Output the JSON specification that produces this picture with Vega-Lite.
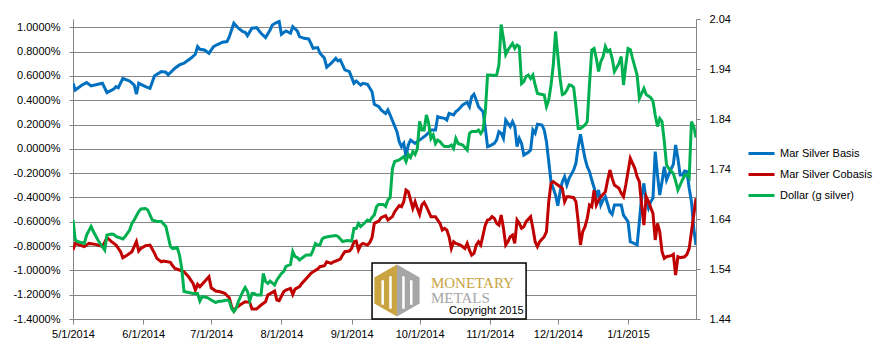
{
"$schema": "https://vega.github.io/schema/vega-lite/v6.json",
"width": 623, "height": 300,
"autosize": {"type": "none"},
"padding": {"left": 73, "top": 19, "right": 192, "bottom": 34},
"background": "white",
"config": {
  "view": {"stroke": null},
  "font": "Liberation Sans",
  "axis": {"domainColor": "#868686", "tickColor": "#868686", "gridColor": "#868686", "labelColor": "#000000", "labelFont": "Liberation Sans", "labelFontSize": 11}
},
"datasets": {
"basis": [
{"d":"2014-05-01","v":0.539},{"d":"2014-05-02","v":0.484},{"d":"2014-05-05","v":0.525},{"d":"2014-05-07","v":0.545},{"d":"2014-05-09","v":0.517},{"d":"2014-05-12","v":0.531},{"d":"2014-05-14","v":0.539},{"d":"2014-05-16","v":0.462},{"d":"2014-05-19","v":0.492},{"d":"2014-05-20","v":0.512},{"d":"2014-05-21","v":0.503},{"d":"2014-05-23","v":0.580},{"d":"2014-05-26","v":0.558},{"d":"2014-05-28","v":0.525},{"d":"2014-05-29","v":0.449},{"d":"2014-05-30","v":0.539},
{"d":"2014-06-02","v":0.512},{"d":"2014-06-04","v":0.498},{"d":"2014-06-06","v":0.602},{"d":"2014-06-09","v":0.635},{"d":"2014-06-11","v":0.630},{"d":"2014-06-12","v":0.608},{"d":"2014-06-15","v":0.663},{"d":"2014-06-17","v":0.690},{"d":"2014-06-19","v":0.704},{"d":"2014-06-22","v":0.745},{"d":"2014-06-24","v":0.778},{"d":"2014-06-25","v":0.841},{"d":"2014-06-26","v":0.819},{"d":"2014-06-28","v":0.813},{"d":"2014-06-30","v":0.786},
{"d":"2014-07-02","v":0.841},{"d":"2014-07-04","v":0.860},{"d":"2014-07-06","v":0.877},{"d":"2014-07-08","v":0.882},{"d":"2014-07-09","v":0.923},{"d":"2014-07-11","v":1.033},{"d":"2014-07-13","v":0.992},{"d":"2014-07-15","v":0.964},{"d":"2014-07-16","v":0.959},{"d":"2014-07-17","v":0.931},{"d":"2014-07-19","v":0.992},{"d":"2014-07-21","v":0.997},{"d":"2014-07-23","v":0.951},{"d":"2014-07-25","v":0.915},{"d":"2014-07-27","v":0.978},{"d":"2014-07-28","v":1.019},{"d":"2014-07-30","v":1.041},{"d":"2014-07-31","v":1.047},
{"d":"2014-08-01","v":0.942},{"d":"2014-08-03","v":0.970},{"d":"2014-08-05","v":0.951},{"d":"2014-08-06","v":1.005},{"d":"2014-08-08","v":0.970},{"d":"2014-08-09","v":0.923},{"d":"2014-08-11","v":0.909},{"d":"2014-08-13","v":0.904},{"d":"2014-08-14","v":0.868},{"d":"2014-08-15","v":0.827},{"d":"2014-08-17","v":0.833},{"d":"2014-08-18","v":0.786},{"d":"2014-08-20","v":0.745},{"d":"2014-08-21","v":0.671},{"d":"2014-08-23","v":0.704},{"d":"2014-08-25","v":0.745},{"d":"2014-08-26","v":0.723},{"d":"2014-08-27","v":0.731},{"d":"2014-08-28","v":0.690},{"d":"2014-08-29","v":0.649},{"d":"2014-08-31","v":0.635},
{"d":"2014-09-02","v":0.539},{"d":"2014-09-03","v":0.558},{"d":"2014-09-05","v":0.525},{"d":"2014-09-06","v":0.539},{"d":"2014-09-08","v":0.531},{"d":"2014-09-10","v":0.470},{"d":"2014-09-11","v":0.366},{"d":"2014-09-13","v":0.347},{"d":"2014-09-14","v":0.320},{"d":"2014-09-16","v":0.290},{"d":"2014-09-17","v":0.320},{"d":"2014-09-18","v":0.278},{"d":"2014-09-21","v":0.141},{"d":"2014-09-22","v":0.059},{"d":"2014-09-23","v":0.018},{"d":"2014-09-24","v":0.045},{"d":"2014-09-25","v":-0.064},{"d":"2014-09-26","v":0.032},{"d":"2014-09-27","v":0.073},{"d":"2014-09-29","v":0.045},{"d":"2014-09-30","v":0.059},
{"d":"2014-10-02","v":0.086},{"d":"2014-10-04","v":0.114},{"d":"2014-10-06","v":0.155},{"d":"2014-10-08","v":0.155},{"d":"2014-10-09","v":0.265},{"d":"2014-10-10","v":0.257},{"d":"2014-10-12","v":0.251},{"d":"2014-10-13","v":0.237},{"d":"2014-10-14","v":0.292},{"d":"2014-10-16","v":0.278},{"d":"2014-10-17","v":0.306},{"d":"2014-10-18","v":0.320},{"d":"2014-10-20","v":0.361},{"d":"2014-10-22","v":0.383},{"d":"2014-10-23","v":0.347},{"d":"2014-10-24","v":0.429},{"d":"2014-10-25","v":0.449},{"d":"2014-10-26","v":0.402},{"d":"2014-10-27","v":0.347},{"d":"2014-10-28","v":0.325},{"d":"2014-10-29","v":0.306},{"d":"2014-10-30","v":0.169},{"d":"2014-10-31","v":0.018},
{"d":"2014-11-01","v":0.025},{"d":"2014-11-03","v":0.045},{"d":"2014-11-04","v":0.073},{"d":"2014-11-05","v":0.141},{"d":"2014-11-06","v":0.128},{"d":"2014-11-07","v":0.086},{"d":"2014-11-08","v":0.237},{"d":"2014-11-09","v":0.210},{"d":"2014-11-10","v":0.182},{"d":"2014-11-11","v":0.224},{"d":"2014-11-12","v":0.182},{"d":"2014-11-13","v":0.018},{"d":"2014-11-14","v":0.086},{"d":"2014-11-15","v":0.045},{"d":"2014-11-16","v":-0.051},{"d":"2014-11-18","v":-0.029},{"d":"2014-11-19","v":-0.010},{"d":"2014-11-20","v":0.155},{"d":"2014-11-21","v":0.128},{"d":"2014-11-22","v":0.202},{"d":"2014-11-24","v":0.196},{"d":"2014-11-25","v":0.155},{"d":"2014-11-26","v":0.059},{"d":"2014-11-27","v":-0.106},{"d":"2014-11-28","v":-0.270},{"d":"2014-11-30","v":-0.380},
{"d":"2014-12-01","v":-0.468},{"d":"2014-12-02","v":-0.353},{"d":"2014-12-03","v":-0.270},{"d":"2014-12-04","v":-0.229},{"d":"2014-12-05","v":-0.298},{"d":"2014-12-06","v":-0.243},{"d":"2014-12-08","v":-0.174},{"d":"2014-12-09","v":-0.119},{"d":"2014-12-10","v":0.018},{"d":"2014-12-11","v":0.119},{"d":"2014-12-12","v":0.018},{"d":"2014-12-13","v":-0.078},{"d":"2014-12-14","v":-0.147},{"d":"2014-12-15","v":-0.188},{"d":"2014-12-16","v":-0.257},{"d":"2014-12-17","v":-0.318},{"d":"2014-12-18","v":-0.394},{"d":"2014-12-19","v":-0.339},{"d":"2014-12-20","v":-0.462},{"d":"2014-12-21","v":-0.421},{"d":"2014-12-22","v":-0.394},{"d":"2014-12-24","v":-0.517},{"d":"2014-12-25","v":-0.539},{"d":"2014-12-26","v":-0.462},{"d":"2014-12-29","v":-0.462},{"d":"2014-12-30","v":-0.545},
{"d":"2015-01-01","v":-0.599},{"d":"2015-01-02","v":-0.764},{"d":"2015-01-04","v":-0.781},{"d":"2015-01-05","v":-0.791},{"d":"2015-01-06","v":-0.599},{"d":"2015-01-07","v":-0.394},{"d":"2015-01-08","v":-0.284},{"d":"2015-01-09","v":-0.435},{"d":"2015-01-10","v":-0.490},{"d":"2015-01-11","v":-0.435},{"d":"2015-01-12","v":-0.407},{"d":"2015-01-13","v":-0.023},{"d":"2015-01-14","v":-0.215},{"d":"2015-01-15","v":-0.380},{"d":"2015-01-16","v":-0.270},{"d":"2015-01-17","v":-0.147},{"d":"2015-01-18","v":-0.257},{"d":"2015-01-19","v":-0.210},{"d":"2015-01-20","v":-0.166},{"d":"2015-01-21","v":-0.128},{"d":"2015-01-22","v":0.032},{"d":"2015-01-23","v":-0.078},{"d":"2015-01-24","v":-0.215},{"d":"2015-01-25","v":-0.215},{"d":"2015-01-26","v":-0.182},{"d":"2015-01-27","v":-0.188},{"d":"2015-01-28","v":-0.325},{"d":"2015-01-29","v":-0.435},{"d":"2015-01-30","v":-0.654},{"d":"2015-01-31","v":-0.791}
],
"cobasis": [
{"d":"2014-05-01","v":-0.833},{"d":"2014-05-02","v":-0.778},{"d":"2014-05-04","v":-0.792},{"d":"2014-05-06","v":-0.805},{"d":"2014-05-08","v":-0.778},{"d":"2014-05-11","v":-0.786},{"d":"2014-05-13","v":-0.797},{"d":"2014-05-14","v":-0.805},{"d":"2014-05-16","v":-0.731},{"d":"2014-05-18","v":-0.764},{"d":"2014-05-20","v":-0.792},{"d":"2014-05-22","v":-0.846},{"d":"2014-05-23","v":-0.896},{"d":"2014-05-25","v":-0.874},{"d":"2014-05-27","v":-0.846},{"d":"2014-05-29","v":-0.764},{"d":"2014-05-30","v":-0.841},{"d":"2014-05-31","v":-0.819},
{"d":"2014-06-02","v":-0.797},{"d":"2014-06-04","v":-0.792},{"d":"2014-06-06","v":-0.860},{"d":"2014-06-07","v":-0.901},{"d":"2014-06-09","v":-0.929},{"d":"2014-06-10","v":-0.923},{"d":"2014-06-13","v":-0.934},{"d":"2014-06-14","v":-0.962},{"d":"2014-06-15","v":-0.984},{"d":"2014-06-17","v":-0.997},{"d":"2014-06-19","v":-1.011},{"d":"2014-06-21","v":-1.052},{"d":"2014-06-22","v":-1.080},{"d":"2014-06-23","v":-1.107},{"d":"2014-06-24","v":-1.162},{"d":"2014-06-25","v":-1.115},{"d":"2014-06-26","v":-1.135},{"d":"2014-06-28","v":-1.093},{"d":"2014-06-30","v":-1.052},
{"d":"2014-07-01","v":-1.143},{"d":"2014-07-03","v":-1.170},{"d":"2014-07-05","v":-1.176},{"d":"2014-07-07","v":-1.189},{"d":"2014-07-09","v":-1.225},{"d":"2014-07-10","v":-1.299},{"d":"2014-07-11","v":-1.335},{"d":"2014-07-12","v":-1.307},{"d":"2014-07-14","v":-1.280},{"d":"2014-07-16","v":-1.258},{"d":"2014-07-18","v":-1.263},{"d":"2014-07-19","v":-1.318},{"d":"2014-07-21","v":-1.318},{"d":"2014-07-23","v":-1.285},{"d":"2014-07-25","v":-1.258},{"d":"2014-07-26","v":-1.203},{"d":"2014-07-28","v":-1.181},{"d":"2014-07-29","v":-1.170},{"d":"2014-07-30","v":-1.244},{"d":"2014-07-31","v":-1.250},
{"d":"2014-08-02","v":-1.176},{"d":"2014-08-03","v":-1.162},{"d":"2014-08-05","v":-1.148},{"d":"2014-08-06","v":-1.198},{"d":"2014-08-07","v":-1.154},{"d":"2014-08-09","v":-1.134},{"d":"2014-08-10","v":-1.107},{"d":"2014-08-12","v":-1.066},{"d":"2014-08-14","v":-1.025},{"d":"2014-08-15","v":-1.011},{"d":"2014-08-17","v":-0.989},{"d":"2014-08-18","v":-0.970},{"d":"2014-08-20","v":-0.962},{"d":"2014-08-21","v":-0.929},{"d":"2014-08-23","v":-0.942},{"d":"2014-08-24","v":-0.929},{"d":"2014-08-25","v":-0.923},{"d":"2014-08-27","v":-0.907},{"d":"2014-08-28","v":-0.874},{"d":"2014-08-29","v":-0.846},{"d":"2014-08-31","v":-0.841},
{"d":"2014-09-01","v":-0.819},{"d":"2014-09-02","v":-0.764},{"d":"2014-09-03","v":-0.759},{"d":"2014-09-04","v":-0.833},{"d":"2014-09-05","v":-0.792},{"d":"2014-09-06","v":-0.778},{"d":"2014-09-08","v":-0.792},{"d":"2014-09-09","v":-0.770},{"d":"2014-09-10","v":-0.731},{"d":"2014-09-11","v":-0.613},{"d":"2014-09-13","v":-0.594},{"d":"2014-09-14","v":-0.567},{"d":"2014-09-16","v":-0.550},{"d":"2014-09-17","v":-0.586},{"d":"2014-09-19","v":-0.558},{"d":"2014-09-20","v":-0.517},{"d":"2014-09-22","v":-0.468},{"d":"2014-09-23","v":-0.476},{"d":"2014-09-24","v":-0.435},{"d":"2014-09-25","v":-0.339},{"d":"2014-09-26","v":-0.353},{"d":"2014-09-27","v":-0.421},{"d":"2014-09-28","v":-0.490},{"d":"2014-09-29","v":-0.435},{"d":"2014-09-30","v":-0.490},
{"d":"2014-10-01","v":-0.539},{"d":"2014-10-02","v":-0.462},{"d":"2014-10-03","v":-0.440},{"d":"2014-10-04","v":-0.476},{"d":"2014-10-05","v":-0.517},{"d":"2014-10-06","v":-0.558},{"d":"2014-10-08","v":-0.558},{"d":"2014-10-09","v":-0.586},{"d":"2014-10-10","v":-0.613},{"d":"2014-10-11","v":-0.668},{"d":"2014-10-12","v":-0.654},{"d":"2014-10-13","v":-0.668},{"d":"2014-10-14","v":-0.723},{"d":"2014-10-15","v":-0.819},{"d":"2014-10-16","v":-0.764},{"d":"2014-10-17","v":-0.778},{"d":"2014-10-19","v":-0.792},{"d":"2014-10-21","v":-0.819},{"d":"2014-10-22","v":-0.778},{"d":"2014-10-23","v":-0.833},{"d":"2014-10-24","v":-0.874},{"d":"2014-10-25","v":-0.860},{"d":"2014-10-26","v":-0.792},{"d":"2014-10-27","v":-0.764},{"d":"2014-10-28","v":-0.792},{"d":"2014-10-29","v":-0.709},{"d":"2014-10-30","v":-0.627},{"d":"2014-10-31","v":-0.586},
{"d":"2014-11-01","v":-0.580},{"d":"2014-11-02","v":-0.558},{"d":"2014-11-03","v":-0.572},{"d":"2014-11-04","v":-0.613},{"d":"2014-11-05","v":-0.627},{"d":"2014-11-06","v":-0.545},{"d":"2014-11-07","v":-0.654},{"d":"2014-11-08","v":-0.791},{"d":"2014-11-09","v":-0.764},{"d":"2014-11-10","v":-0.723},{"d":"2014-11-11","v":-0.709},{"d":"2014-11-12","v":-0.778},{"d":"2014-11-13","v":-0.586},{"d":"2014-11-14","v":-0.613},{"d":"2014-11-15","v":-0.654},{"d":"2014-11-16","v":-0.641},{"d":"2014-11-17","v":-0.599},{"d":"2014-11-19","v":-0.558},{"d":"2014-11-20","v":-0.654},{"d":"2014-11-21","v":-0.764},{"d":"2014-11-22","v":-0.805},{"d":"2014-11-23","v":-0.764},{"d":"2014-11-25","v":-0.723},{"d":"2014-11-26","v":-0.682},{"d":"2014-11-27","v":-0.435},{"d":"2014-11-28","v":-0.284},{"d":"2014-11-29","v":-0.270},{"d":"2014-11-30","v":-0.284},
{"d":"2014-12-01","v":-0.298},{"d":"2014-12-03","v":-0.325},{"d":"2014-12-04","v":-0.435},{"d":"2014-12-05","v":-0.394},{"d":"2014-12-06","v":-0.394},{"d":"2014-12-08","v":-0.402},{"d":"2014-12-09","v":-0.435},{"d":"2014-12-10","v":-0.599},{"d":"2014-12-11","v":-0.791},{"d":"2014-12-12","v":-0.682},{"d":"2014-12-13","v":-0.641},{"d":"2014-12-14","v":-0.572},{"d":"2014-12-15","v":-0.462},{"d":"2014-12-16","v":-0.476},{"d":"2014-12-17","v":-0.340},{"d":"2014-12-18","v":-0.462},{"d":"2014-12-19","v":-0.421},{"d":"2014-12-20","v":-0.394},{"d":"2014-12-22","v":-0.353},{"d":"2014-12-23","v":-0.257},{"d":"2014-12-24","v":-0.174},{"d":"2014-12-25","v":-0.243},{"d":"2014-12-26","v":-0.298},{"d":"2014-12-28","v":-0.325},{"d":"2014-12-29","v":-0.366},{"d":"2014-12-30","v":-0.394},{"d":"2014-12-31","v":-0.298},
{"d":"2015-01-01","v":-0.188},{"d":"2015-01-02","v":-0.078},{"d":"2015-01-04","v":-0.160},{"d":"2015-01-05","v":-0.229},{"d":"2015-01-06","v":-0.270},{"d":"2015-01-07","v":-0.462},{"d":"2015-01-08","v":-0.627},{"d":"2015-01-09","v":-0.394},{"d":"2015-01-10","v":-0.435},{"d":"2015-01-11","v":-0.484},{"d":"2015-01-12","v":-0.531},{"d":"2015-01-13","v":-0.750},{"d":"2015-01-14","v":-0.613},{"d":"2015-01-15","v":-0.682},{"d":"2015-01-16","v":-0.846},{"d":"2015-01-17","v":-0.901},{"d":"2015-01-18","v":-0.888},{"d":"2015-01-20","v":-0.879},{"d":"2015-01-21","v":-0.868},{"d":"2015-01-22","v":-1.038},{"d":"2015-01-23","v":-0.888},{"d":"2015-01-24","v":-0.896},{"d":"2015-01-26","v":-0.888},{"d":"2015-01-27","v":-0.868},{"d":"2015-01-28","v":-0.819},{"d":"2015-01-29","v":-0.682},{"d":"2015-01-30","v":-0.545},{"d":"2015-01-31","v":-0.407}
],
"dollar": [
{"d":"2014-05-01","v":1.638},{"d":"2014-05-02","v":1.598},{"d":"2014-05-03","v":1.595},{"d":"2014-05-06","v":1.591},{"d":"2014-05-07","v":1.608},{"d":"2014-05-09","v":1.625},{"d":"2014-05-10","v":1.615},{"d":"2014-05-12","v":1.598},{"d":"2014-05-13","v":1.591},{"d":"2014-05-15","v":1.578},{"d":"2014-05-16","v":1.608},{"d":"2014-05-18","v":1.610},{"d":"2014-05-19","v":1.609},{"d":"2014-05-20","v":1.605},{"d":"2014-05-23","v":1.600},{"d":"2014-05-24","v":1.605},{"d":"2014-05-26","v":1.618},{"d":"2014-05-27","v":1.631},{"d":"2014-05-28","v":1.638},{"d":"2014-05-30","v":1.655},{"d":"2014-05-31","v":1.660},
{"d":"2014-06-02","v":1.661},{"d":"2014-06-03","v":1.658},{"d":"2014-06-05","v":1.638},{"d":"2014-06-07","v":1.635},{"d":"2014-06-09","v":1.635},{"d":"2014-06-11","v":1.625},{"d":"2014-06-12","v":1.605},{"d":"2014-06-13","v":1.585},{"d":"2014-06-14","v":1.581},{"d":"2014-06-16","v":1.583},{"d":"2014-06-17","v":1.568},{"d":"2014-06-18","v":1.541},{"d":"2014-06-19","v":1.495},{"d":"2014-06-21","v":1.493},{"d":"2014-06-23","v":1.491},{"d":"2014-06-25","v":1.491},{"d":"2014-06-26","v":1.476},{"d":"2014-06-27","v":1.485},{"d":"2014-06-29","v":1.483},{"d":"2014-06-30","v":1.481},
{"d":"2014-07-01","v":1.478},{"d":"2014-07-03","v":1.473},{"d":"2014-07-04","v":1.475},{"d":"2014-07-06","v":1.476},{"d":"2014-07-08","v":1.478},{"d":"2014-07-09","v":1.476},{"d":"2014-07-10","v":1.461},{"d":"2014-07-11","v":1.455},{"d":"2014-07-12","v":1.461},{"d":"2014-07-13","v":1.475},{"d":"2014-07-15","v":1.495},{"d":"2014-07-16","v":1.503},{"d":"2014-07-17","v":1.495},{"d":"2014-07-18","v":1.476},{"d":"2014-07-19","v":1.491},{"d":"2014-07-20","v":1.491},{"d":"2014-07-21","v":1.488},{"d":"2014-07-23","v":1.488},{"d":"2014-07-24","v":1.531},{"d":"2014-07-25","v":1.515},{"d":"2014-07-26","v":1.511},{"d":"2014-07-27","v":1.516},{"d":"2014-07-29","v":1.508},{"d":"2014-07-30","v":1.518},
{"d":"2014-08-01","v":1.531},{"d":"2014-08-02","v":1.535},{"d":"2014-08-03","v":1.545},{"d":"2014-08-05","v":1.549},{"d":"2014-08-06","v":1.575},{"d":"2014-08-07","v":1.565},{"d":"2014-08-08","v":1.563},{"d":"2014-08-09","v":1.558},{"d":"2014-08-11","v":1.565},{"d":"2014-08-12","v":1.568},{"d":"2014-08-14","v":1.568},{"d":"2014-08-15","v":1.578},{"d":"2014-08-16","v":1.591},{"d":"2014-08-17","v":1.588},{"d":"2014-08-18","v":1.588},{"d":"2014-08-19","v":1.600},{"d":"2014-08-20","v":1.603},{"d":"2014-08-22","v":1.605},{"d":"2014-08-25","v":1.607},{"d":"2014-08-26","v":1.605},{"d":"2014-08-27","v":1.600},{"d":"2014-08-28","v":1.595},{"d":"2014-08-30","v":1.597},
{"d":"2014-09-01","v":1.596},{"d":"2014-09-02","v":1.621},{"d":"2014-09-03","v":1.621},{"d":"2014-09-04","v":1.631},{"d":"2014-09-05","v":1.625},{"d":"2014-09-06","v":1.629},{"d":"2014-09-08","v":1.638},{"d":"2014-09-09","v":1.636},{"d":"2014-09-10","v":1.643},{"d":"2014-09-11","v":1.648},{"d":"2014-09-12","v":1.665},{"d":"2014-09-13","v":1.669},{"d":"2014-09-15","v":1.669},{"d":"2014-09-16","v":1.665},{"d":"2014-09-17","v":1.678},{"d":"2014-09-18","v":1.683},{"d":"2014-09-19","v":1.741},{"d":"2014-09-20","v":1.755},{"d":"2014-09-22","v":1.758},{"d":"2014-09-24","v":1.765},{"d":"2014-09-25","v":1.755},{"d":"2014-09-26","v":1.769},{"d":"2014-09-27","v":1.763},{"d":"2014-09-28","v":1.775},{"d":"2014-09-29","v":1.769},{"d":"2014-09-30","v":1.781},
{"d":"2014-10-01","v":1.835},{"d":"2014-10-02","v":1.818},{"d":"2014-10-03","v":1.818},{"d":"2014-10-04","v":1.848},{"d":"2014-10-05","v":1.831},{"d":"2014-10-06","v":1.801},{"d":"2014-10-07","v":1.808},{"d":"2014-10-08","v":1.791},{"d":"2014-10-09","v":1.798},{"d":"2014-10-10","v":1.795},{"d":"2014-10-11","v":1.789},{"d":"2014-10-12","v":1.785},{"d":"2014-10-14","v":1.785},{"d":"2014-10-15","v":1.788},{"d":"2014-10-16","v":1.781},{"d":"2014-10-17","v":1.801},{"d":"2014-10-18","v":1.791},{"d":"2014-10-20","v":1.788},{"d":"2014-10-22","v":1.778},{"d":"2014-10-23","v":1.811},{"d":"2014-10-24","v":1.815},{"d":"2014-10-26","v":1.815},{"d":"2014-10-27","v":1.818},{"d":"2014-10-28","v":1.811},{"d":"2014-10-29","v":1.818},{"d":"2014-10-30","v":1.855},{"d":"2014-10-31","v":1.928},
{"d":"2014-11-01","v":1.928},{"d":"2014-11-03","v":1.927},{"d":"2014-11-04","v":1.928},{"d":"2014-11-05","v":1.948},{"d":"2014-11-06","v":2.029},{"d":"2014-11-07","v":2.001},{"d":"2014-11-08","v":1.969},{"d":"2014-11-09","v":1.978},{"d":"2014-11-10","v":1.985},{"d":"2014-11-11","v":1.991},{"d":"2014-11-12","v":1.981},{"d":"2014-11-13","v":1.988},{"d":"2014-11-14","v":1.985},{"d":"2014-11-15","v":1.911},{"d":"2014-11-16","v":1.915},{"d":"2014-11-17","v":1.925},{"d":"2014-11-18","v":1.928},{"d":"2014-11-19","v":1.921},{"d":"2014-11-20","v":1.928},{"d":"2014-11-21","v":1.908},{"d":"2014-11-22","v":1.891},{"d":"2014-11-24","v":1.889},{"d":"2014-11-25","v":1.888},{"d":"2014-11-26","v":1.865},{"d":"2014-11-27","v":1.878},{"d":"2014-11-28","v":1.908},{"d":"2014-11-29","v":1.948},{"d":"2014-11-30","v":2.015},
{"d":"2014-12-01","v":1.968},{"d":"2014-12-02","v":1.921},{"d":"2014-12-03","v":1.889},{"d":"2014-12-04","v":1.891},{"d":"2014-12-05","v":1.898},{"d":"2014-12-06","v":1.908},{"d":"2014-12-07","v":1.907},{"d":"2014-12-08","v":1.903},{"d":"2014-12-09","v":1.865},{"d":"2014-12-10","v":1.821},{"d":"2014-12-11","v":1.821},{"d":"2014-12-13","v":1.828},{"d":"2014-12-14","v":1.835},{"d":"2014-12-15","v":1.911},{"d":"2014-12-16","v":1.978},{"d":"2014-12-17","v":1.981},{"d":"2014-12-18","v":1.961},{"d":"2014-12-19","v":1.935},{"d":"2014-12-20","v":1.955},{"d":"2014-12-21","v":1.965},{"d":"2014-12-22","v":1.985},{"d":"2014-12-23","v":1.975},{"d":"2014-12-24","v":1.978},{"d":"2014-12-25","v":1.961},{"d":"2014-12-26","v":1.935},{"d":"2014-12-28","v":1.951},{"d":"2014-12-29","v":1.965},{"d":"2014-12-30","v":1.908},{"d":"2014-12-31","v":1.948},
{"d":"2015-01-01","v":1.981},{"d":"2015-01-02","v":1.979},{"d":"2015-01-03","v":1.961},{"d":"2015-01-05","v":1.928},{"d":"2015-01-06","v":1.881},{"d":"2015-01-07","v":1.891},{"d":"2015-01-08","v":1.901},{"d":"2015-01-09","v":1.889},{"d":"2015-01-11","v":1.883},{"d":"2015-01-12","v":1.876},{"d":"2015-01-13","v":1.848},{"d":"2015-01-14","v":1.825},{"d":"2015-01-15","v":1.841},{"d":"2015-01-16","v":1.835},{"d":"2015-01-17","v":1.795},{"d":"2015-01-18","v":1.748},{"d":"2015-01-19","v":1.741},{"d":"2015-01-20","v":1.736},{"d":"2015-01-21","v":1.731},{"d":"2015-01-22","v":1.716},{"d":"2015-01-23","v":1.698},{"d":"2015-01-24","v":1.708},{"d":"2015-01-25","v":1.718},{"d":"2015-01-26","v":1.727},{"d":"2015-01-27","v":1.729},{"d":"2015-01-28","v":1.723},{"d":"2015-01-29","v":1.835},{"d":"2015-01-30","v":1.825},{"d":"2015-01-31","v":1.803}
]
},
"layer": [
{
"layer": [
{
"data": {"name": "basis"},
"mark": {"type": "line", "strokeWidth": 3, "clip": true},
"encoding": {
  "x": {"field": "d", "type": "temporal", "title": null,
    "scale": {"type": "utc", "domain": [{"year": 2014, "month": 5, "date": 1, "utc": true}, {"year": 2015, "month": 1, "date": 31, "utc": true}]},
    "axis": {"values": [{"year": 2014, "month": 5, "date": 1, "utc": true}, {"year": 2014, "month": 6, "date": 1, "utc": true}, {"year": 2014, "month": 7, "date": 1, "utc": true}, {"year": 2014, "month": 8, "date": 1, "utc": true}, {"year": 2014, "month": 9, "date": 1, "utc": true}, {"year": 2014, "month": 10, "date": 1, "utc": true}, {"year": 2014, "month": 11, "date": 1, "utc": true}, {"year": 2014, "month": 12, "date": 1, "utc": true}, {"year": 2015, "month": 1, "date": 1, "utc": true}],
      "format": "%-m/%-d/%Y", "grid": false, "tickSize": 5, "labelPadding": 4, "labelFlush": false, "labelOverlap": false, "tickCount": 20}},
  "y": {"field": "v", "type": "quantitative", "title": null,
    "scale": {"domain": [-1.4, 1.068], "nice": false, "zero": false},
    "axis": {"orient": "left", "values": [-1.4, -1.2, -1, -0.8, -0.6, -0.4, -0.2, 0, 0.2, 0.4, 0.6, 0.8, 1], "tickCount": 20,
      "labelExpr": "replace(format(datum.value, '.4f'), '\u2212', '-') + '%'", "grid": true, "tickSize": 4, "labelPadding": 9, "labelOverlap": false, "labelFlush": false}},
  "color": {"datum": "Mar Silver Basis",
    "scale": {"domain": ["Mar Silver Basis", "Mar Silver Cobasis", "Dollar (g silver)"], "range": ["#0070C0", "#C00000", "#00B050"]},
    "legend": {"title": null, "orient": "none", "legendX": 674, "legendY": 120, "symbolType": "stroke", "symbolSize": 676, "symbolStrokeWidth": 3, "labelFont": "Liberation Sans", "labelFontSize": 11, "labelColor": "#000000", "labelOffset": 4, "rowPadding": -1.5, "padding": 0}}
}
},
{
"data": {"name": "cobasis"},
"mark": {"type": "line", "strokeWidth": 3, "clip": true},
"encoding": {
  "x": {"field": "d", "type": "temporal", "scale": {"type": "utc"}},
  "y": {"field": "v", "type": "quantitative", "scale": {"domain": [-1.4, 1.068], "nice": false, "zero": false}},
  "color": {"datum": "Mar Silver Cobasis"}
}
},
{
"data": {"values": [{"d1": "2014-09-10", "d2": "2014-11-17", "v1": -0.94, "v2": -1.4}]},
"mark": {"type": "rect", "fill": "white", "stroke": "#000000", "strokeWidth": 1.5},
"encoding": {
  "x": {"field": "d1", "type": "temporal", "scale": {"type": "utc"}},
  "x2": {"field": "d2"},
  "y": {"field": "v1", "type": "quantitative", "scale": {"domain": [-1.4, 1.068], "nice": false, "zero": false}},
  "y2": {"field": "v2"}
}
},
{
"data": {"values": [{"d": "2014-09-21", "v": -1.166}]},
"mark": {"type": "point", "shape": "M0,-1 L-0.87,-0.5 L-0.87,0.5 L0,1 Z", "filled": true, "fill": "#C9A441", "opacity": 1, "strokeWidth": 0, "size": 2704},
"encoding": {
  "x": {"field": "d", "type": "temporal", "scale": {"type": "utc"}},
  "y": {"field": "v", "type": "quantitative", "scale": {"domain": [-1.4, 1.068], "nice": false, "zero": false}}
}
},
{
"data": {"values": [{"d": "2014-09-21", "v": -1.166}]},
"mark": {"type": "point", "shape": "M0,-1 L0.87,-0.5 L0.87,0.5 L0,1 Z", "filled": true, "fill": "#A6A6A6", "opacity": 1, "strokeWidth": 0, "size": 2704},
"encoding": {
  "x": {"field": "d", "type": "temporal", "scale": {"type": "utc"}},
  "y": {"field": "v", "type": "quantitative", "scale": {"domain": [-1.4, 1.068], "nice": false, "zero": false}}
}
},
{
"data": {"values": [{"d": "2014-09-21", "v": -1.166}]},
"mark": {"type": "point", "shape": "M-0.55,-0.4 L-0.55,0.55 M-0.25,-0.55 L-0.25,0.7 M0.25,-0.55 L0.25,0.7 M0.55,-0.4 L0.55,0.55", "filled": false, "stroke": "white", "strokeWidth": 2.5, "opacity": 1, "size": 2704},
"encoding": {
  "x": {"field": "d", "type": "temporal", "scale": {"type": "utc"}},
  "y": {"field": "v", "type": "quantitative", "scale": {"domain": [-1.4, 1.068], "nice": false, "zero": false}}
}
},
{
"data": {"values": [{"d": "2014-10-06", "v": -1.105, "t": "MONETARY"}]},
"mark": {"type": "text", "align": "left", "baseline": "middle", "font": "Liberation Serif", "fontSize": 15, "letterSpacing": 1.5, "fill": "#C9A441"},
"encoding": {
  "x": {"field": "d", "type": "temporal", "scale": {"type": "utc"}},
  "y": {"field": "v", "type": "quantitative", "scale": {"domain": [-1.4, 1.068], "nice": false, "zero": false}},
  "text": {"field": "t"}
}
},
{
"data": {"values": [{"d": "2014-10-06", "v": -1.224, "t": "METALS"}]},
"mark": {"type": "text", "align": "left", "baseline": "middle", "font": "Liberation Serif", "fontSize": 15, "letterSpacing": 1.5, "fill": "#A6A6A6"},
"encoding": {
  "x": {"field": "d", "type": "temporal", "scale": {"type": "utc"}},
  "y": {"field": "v", "type": "quantitative", "scale": {"domain": [-1.4, 1.068], "nice": false, "zero": false}},
  "text": {"field": "t"}
}
},
{
"data": {"values": [{"d": "2014-10-14", "v": -1.337, "t": "Copyright 2015"}]},
"mark": {"type": "text", "align": "left", "baseline": "middle", "font": "Liberation Sans", "fontSize": 11, "fill": "#000000"},
"encoding": {
  "x": {"field": "d", "type": "temporal", "scale": {"type": "utc"}},
  "y": {"field": "v", "type": "quantitative", "scale": {"domain": [-1.4, 1.068], "nice": false, "zero": false}},
  "text": {"field": "t"}
}
}
]
},
{
"data": {"name": "dollar"},
"mark": {"type": "line", "strokeWidth": 3, "clip": true},
"encoding": {
  "x": {"field": "d", "type": "temporal", "scale": {"type": "utc"}},
  "y": {"field": "v", "type": "quantitative", "title": null,
    "scale": {"domain": [1.44, 2.04], "nice": false, "zero": false},
    "axis": {"orient": "right", "values": [1.44, 1.54, 1.64, 1.74, 1.84, 1.94, 2.04], "tickCount": 20, "format": ".2f", "grid": false, "tickSize": 4, "labelPadding": 9, "labelOverlap": false, "labelFlush": false}},
  "color": {"datum": "Dollar (g silver)"}
}
}
],
"resolve": {"scale": {"y": "independent"}, "axis": {"y": "independent"}}
}
